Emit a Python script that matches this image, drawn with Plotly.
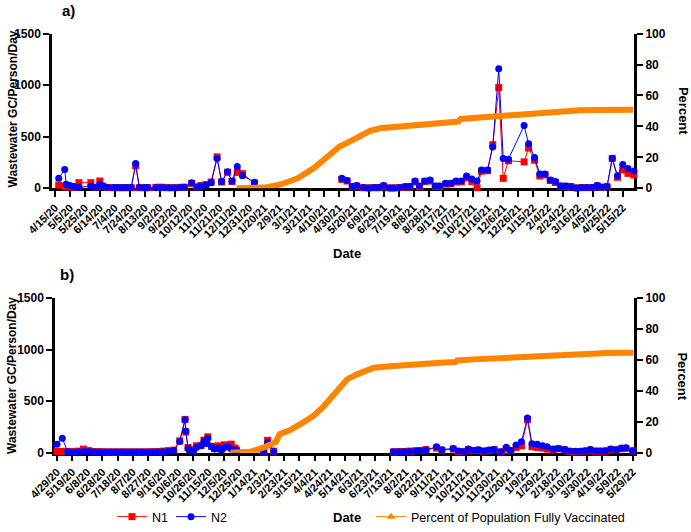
import plotly.graph_objects as go
import pandas as pd

# ---------------- Panel a data ----------------
a_ticks = ["4/15/20", "5/5/20", "5/25/20", "6/14/20", "7/4/20", "7/24/20", "8/13/20", "9/2/20", "9/22/20",
           "10/12/20", "11/1/20", "11/21/20", "12/11/20", "12/31/20", "1/20/21", "2/9/21", "3/1/21", "3/21/21",
           "4/10/21", "4/30/21", "5/20/21", "6/9/21", "6/29/21", "7/19/21", "8/8/21", "8/28/21", "9/17/21",
           "10/7/21", "10/27/21", "11/16/21", "12/6/21", "12/26/21", "1/15/22", "2/4/22", "2/24/22", "3/16/22",
           "4/5/22", "4/25/22", "5/15/22"]

a_dates_1 = ["4/20/20", "4/28/20", "4/30/20", "5/5/20", "5/10/20", "5/17/20", "6/2/20", "6/9/20", "6/14/20",
             "6/18/20", "6/24/20", "7/2/20", "7/8/20", "7/14/20", "7/20/20", "7/26/20", "8/1/20", "8/6/20",
             "8/13/20", "8/17/20", "8/28/20", "9/3/20", "9/8/20", "9/15/20", "9/22/20", "9/29/20", "10/5/20",
             "10/15/20", "10/22/20", "10/27/20", "11/3/20", "11/10/20", "11/18/20", "11/24/20", "12/2/20",
             "12/8/20", "12/15/20", "12/22/20", "1/7/21"]
a_n1_1 = [30, 15, 20, 12, 10, 54, 54, 10, 70, 20, 8, 5, 5, 5, 5, 5, 218, 5, 5, 5, 8, 10, 8, 5, 5, 8, 10, 45,
          12, 25, 35, 60, 304, 60, 155, 65, 154, 141, 50]
a_n2_1 = [96, 182, 38, 26, 16, 6, 22, 6, 38, 22, 6, 6, 6, 6, 6, 6, 240, 6, 6, 6, 4, 6, 4, 4, 4, 6, 10, 54,
          10, 22, 32, 54, 288, 64, 160, 70, 211, 122, 58]

a_dates_2 = ["5/4/21", "5/11/21", "5/18/21", "5/24/21", "6/2/21", "6/9/21", "6/16/21", "6/22/21", "6/29/21",
             "7/7/21", "7/13/21", "7/20/21", "7/28/21", "8/3/21", "8/10/21", "8/16/21", "8/23/21", "8/30/21",
             "9/6/21", "9/12/21", "9/20/21", "9/27/21", "10/4/21", "10/11/21", "10/18/21", "10/25/21",
             "11/1/21", "11/7/21", "11/15/21", "11/22/21", "11/30/21", "12/6/21", "12/13/21", "1/3/22",
             "1/9/22", "1/17/22", "1/24/22", "1/31/22", "2/7/22", "2/14/22", "2/21/22", "2/28/22", "3/7/22",
             "3/14/22", "3/21/22", "3/28/22", "4/4/22", "4/11/22", "4/17/22", "4/24/22", "5/1/22", "5/8/22",
             "5/15/22", "5/22/22", "5/30/22"]
a_n1_2 = [85, 70, 14, 20, 5, 3, 5, 5, 20, 3,
          3, 6, 12, 14, 60, 15, 65, 70, 18, 18,
          40, 42, 60, 62, 100, 65, 5, 165, 170, 422,
          977, 96, 266, 256, 390, 272, 118, 130, 75, 55,
          20, 18, 14, 3, 6, 6, 6, 22, 10, 14,
          290, 106, 176, 144, 128]
a_n2_2 = [96, 74, 16, 26, 6, 3, 6, 6, 26, 3,
          3, 6, 16, 16, 70, 22, 70, 80, 22, 22,
          48, 48, 70, 70, 118, 90, 70, 176, 176, 400,
          1160, 288, 282, 608, 432, 298, 138, 138, 80, 64,
          22, 22, 16, 3, 6, 6, 6, 26, 10, 16,
          288, 122, 230, 192, 166]

vac_a_dates = ["12/14/20", "1/1/21", "1/21/21", "2/12/21", "3/6/21", "3/28/21", "4/18/21", "5/1/21",
               "5/15/21", "5/28/21", "6/10/21", "6/24/21", "7/16/21", "8/8/21", "8/30/21", "9/21/21",
               "10/7/21", "10/10/21", "11/5/21", "11/27/21", "12/19/21", "1/11/22", "2/2/22", "2/24/22",
               "3/19/22", "4/10/22", "5/2/22", "5/29/22"]
vac_a = [0, 0.1, 0.4, 2.6, 6.4, 13.2, 21.3, 27, 30.3, 34, 37, 38.8, 39.9, 41, 41.6, 42.6, 43.1, 44.8, 45.8,
         46.9, 47.8, 48.8, 49.5, 50.1, 50.5, 50.6, 50.7, 50.7]

# ---------------- Panel b data ----------------
b_ticks = ["4/29/20", "5/19/20", "6/8/20", "6/28/20", "7/18/20", "8/7/20", "8/27/20", "9/16/20", "10/6/20",
           "10/26/20", "11/15/20", "12/5/20", "12/25/20", "1/14/21", "2/3/21", "2/23/21", "3/15/21", "4/4/21",
           "4/24/21", "5/14/21", "6/3/21", "6/23/21", "7/13/21", "8/2/21", "8/22/21", "9/11/21", "10/1/21",
           "10/21/21", "11/10/21", "11/30/21", "12/20/21", "1/9/22", "1/29/22", "2/18/22", "3/10/22",
           "3/30/22", "4/19/22", "5/9/22", "5/29/22"]

b_dates_1 = ["4/29/20", "5/6/20", "5/13/20", "5/20/20", "5/27/20", "6/3/20", "6/10/20", "6/17/20", "6/24/20",
             "7/1/20", "7/8/20", "7/15/20", "7/22/20", "7/29/20", "8/5/20", "8/12/20", "8/19/20", "8/26/20",
             "9/2/20", "9/9/20", "9/16/20", "9/23/20", "9/30/20", "10/8/20", "10/15/20", "10/16/20",
             "10/19/20", "10/21/20", "10/26/20", "10/30/20", "11/5/20", "11/9/20", "11/12/20", "11/14/20",
             "11/19/20", "11/23/20", "11/28/20", "12/2/20", "12/6/20", "12/11/20", "12/15/20", "12/20/20",
             "12/22/20", "1/27/21", "2/1/21", "2/9/21"]
b_n1_1 = [13, 13, 12, 10, 15, 35, 20, 12, 10, 8, 8, 8, 8, 8, 8, 8, 8, 8, 10, 12, 15, 20, 25,
          115, 323, 200, 51, 30, 20, 67, 70, 122, 95, 154, 62, 40, 67, 35, 77, 65, 83, 45, 25,
          8, 120, 15]
b_n2_1 = [83, 141, 10, 8, 10, 15, 12, 8, 8, 6, 6, 6, 6, 6, 6, 6, 6, 6, 8, 8, 10, 15, 20,
          109, 320, 211, 42, 26, 13, 51, 67, 109, 90, 141, 58, 35, 45, 26, 51, 58, 35, 26, 19,
          6, 100, 13]

b_dates_2 = ["7/17/21", "7/24/21", "7/31/21", "8/7/21", "8/15/21", "8/21/21", "8/29/21", "9/12/21", "9/19/21",
             "10/4/21", "10/11/21", "10/18/21", "10/24/21", "10/31/21", "11/6/21", "11/13/21", "11/20/21",
             "11/27/21", "12/6/21", "12/13/21", "12/19/21", "12/26/21", "1/2/22", "1/10/22", "1/16/22",
             "1/23/22", "1/30/22", "2/5/22", "2/13/22", "2/20/22", "2/28/22", "3/7/22", "3/14/22", "3/21/22",
             "3/27/22", "4/3/22", "4/10/22", "4/16/22", "4/23/22", "4/30/22", "5/7/22", "5/14/22", "5/20/22",
             "5/29/22"]
b_n1_2 = [8, 10, 12, 15, 18, 22, 30, 45, 25, 35, 12, 10, 28, 20, 25, 15, 22, 30, 8, 35,
          20, 51, 67, 320, 58, 51, 45, 35, 30, 38, 28, 12, 10, 12, 15, 25, 14, 14, 16, 30,
          28, 38, 42, 18]
b_n2_2 = [10, 10, 10, 13, 16, 19, 26, 58, 29, 42, 16, 10, 35, 22, 29, 16, 26, 32, 10, 54,
          22, 74, 106, 336, 86, 83, 67, 58, 35, 42, 32, 16, 13, 13, 19, 32, 16, 16, 19, 35,
          29, 45, 48, 19]

vac_b_dates = ["12/14/20", "1/9/21", "1/27/21", "2/9/21", "2/12/21", "2/17/21", "3/3/21", "3/20/21", "4/3/21",
               "4/16/21", "4/29/21", "5/12/21", "5/17/21", "5/30/21", "6/12/21", "6/21/21", "7/13/21",
               "8/4/21", "8/26/21", "9/17/21", "10/7/21", "10/9/21", "10/31/21", "11/22/21", "12/14/21",
               "1/5/22", "1/27/22", "2/18/22", "3/12/22", "4/3/22", "4/25/22", "5/30/22"]
vac_b = [0, 0.6, 3.4, 5.6, 7, 12, 14.6, 19.6, 24, 30, 37.7, 46, 47.5, 50.7, 52.9, 55, 56, 57, 57.8, 58.2,
         58.7, 59.7, 60.4, 61, 61.7, 62.3, 63, 63.6, 64, 64.2, 64.5, 64.7]


def d(lst):
    return pd.to_datetime(lst, format="%m/%d/%y")


RED = "#FF0000"
BLUE = "#0000FF"
ORANGE = "#FF8400"
FONT = "Liberation Sans, Arial, sans-serif"

W, H = 691, 532


def px(x):
    return x / W


def py(y):
    return 1 - y / H


fig = go.Figure()


def add_panel(xa, ya_left, ya_right, segs, vd, vv, show):
    fig.add_trace(go.Scatter(x=d(vd), y=vv, mode="lines", line=dict(color=ORANGE, width=6),
                             xaxis=xa, yaxis=ya_right, showlegend=False, hoverinfo="skip"))
    for i, (dates, n1, n2) in enumerate(segs):
        fig.add_trace(go.Scatter(x=d(dates), y=n1, mode="lines+markers", name="N1",
                                 line=dict(color=RED, width=1),
                                 marker=dict(symbol="square", size=7, color=RED),
                                 xaxis=xa, yaxis=ya_left, cliponaxis=False,
                                 showlegend=(show and i == 0), legendgroup="n1", legend="legend"))
    for i, (dates, n1, n2) in enumerate(segs):
        fig.add_trace(go.Scatter(x=d(dates), y=n2, mode="lines+markers", name="N2",
                                 line=dict(color=BLUE, width=1),
                                 marker=dict(symbol="circle", size=7, color=BLUE),
                                 xaxis=xa, yaxis=ya_left, cliponaxis=False,
                                 showlegend=(show and i == 0), legendgroup="n2", legend="legend"))


add_panel("x", "y", "y2", [(a_dates_1, a_n1_1, a_n2_1), (a_dates_2, a_n1_2, a_n2_2)], vac_a_dates, vac_a, True)
add_panel("x2", "y3", "y4", [(b_dates_1, b_n1_1, b_n2_1), (b_dates_2, b_n1_2, b_n2_2)], vac_b_dates, vac_b, False)

# legend entry for vaccination
fig.add_trace(go.Scatter(x=[None], y=[None], mode="lines+markers", name="Percent of Population Fully Vaccinated",
                         line=dict(color=ORANGE, width=1), marker=dict(symbol="triangle-up", size=8, color=ORANGE),
                         legend="legend2", xaxis="x", yaxis="y2"))

axis_common = dict(showline=True, linewidth=2.5, linecolor="black", ticks="outside", ticklen=6, tickwidth=2,
                   tickcolor="black", showgrid=False, zeroline=False, layer="below traces")
tickfont_y = dict(family=FONT, size=12, color="black", weight="bold")
tickfont_x = dict(family=FONT, size=11, color="black", weight="bold")

fig.update_layout(
    width=W, height=H, margin=dict(l=0, r=0, t=0, b=0),
    plot_bgcolor="white", paper_bgcolor="white",
    font=dict(family=FONT, color="black"),
    xaxis=dict(domain=[px(52), px(634.3)], anchor="y",
               range=[pd.Timestamp("2020-04-11"), pd.Timestamp("2022-05-30 12:00")],
               tickmode="array", tickvals=d(a_ticks), ticktext=a_ticks, tickangle=-45,
               tickfont=tickfont_x, automargin=False, **axis_common),
    yaxis=dict(domain=[py(190), py(34)], anchor="x", range=[0, 1500], tickvals=[0, 500, 1000, 1500],
               tickfont=tickfont_y, automargin=False, **axis_common),
    yaxis2=dict(overlaying="y", side="right", anchor="x", range=[0, 100], tickvals=[0, 20, 40, 60, 80, 100],
                tickfont=tickfont_y, automargin=False, **axis_common),
    xaxis2=dict(domain=[px(55), px(634.3)], anchor="y3",
                range=[pd.Timestamp("2020-04-26 09:00"), pd.Timestamp("2022-05-31")],
                tickmode="array", tickvals=d(b_ticks), ticktext=b_ticks, tickangle=-45,
                tickfont=tickfont_x, automargin=False, **axis_common),
    yaxis3=dict(domain=[py(457), py(301)], anchor="x2", range=[0, 1500], tickvals=[0, 500, 1000, 1500],
                tickfont=tickfont_y, automargin=False, **axis_common),
    yaxis4=dict(overlaying="y3", side="right", anchor="x2", range=[0, 100], tickvals=[0, 20, 40, 60, 80, 100],
                tickfont=tickfont_y, automargin=False, **axis_common),
    legend=dict(orientation="h", x=px(112), y=py(522), xanchor="left", yanchor="middle", entrywidth=14,
                font=dict(family=FONT, size=12.5, color="black"), bgcolor="rgba(0,0,0,0)"),
    legend2=dict(orientation="h", x=px(371), y=py(522), xanchor="left", yanchor="middle",
                 font=dict(family=FONT, size=12.5, color="black"), bgcolor="rgba(0,0,0,0)"),
)

bold = dict(family=FONT, color="black", weight="bold")
annots = [
    dict(text="a)", x=px(68.5), y=py(11), font=dict(size=15, **bold)),
    dict(text="b)", x=px(67), y=py(277), font=dict(size=15, **bold)),
    dict(text="Wastewater GC/Person/Day", x=px(12.5), y=py(110), textangle=-90, font=dict(size=12, **bold)),
    dict(text="Wastewater GC/Person/Day", x=px(12.5), y=py(379), textangle=-90, font=dict(size=12, **bold)),
    dict(text="Percent", x=px(683), y=py(112), textangle=90, font=dict(size=13, **bold)),
    dict(text="Percent", x=px(683), y=py(380), textangle=90, font=dict(size=13, **bold)),
    dict(text="Date", x=px(347), y=py(256), font=dict(size=13, **bold)),
    dict(text="Date", x=px(347), y=py(522), font=dict(size=13, **bold)),
]
for a in annots:
    fig.add_annotation(xref="paper", yref="paper", xanchor="center", yanchor="middle", showarrow=False, **a)

fig.write_html("out.html", config={"displayModeBar": False},
               post_script="document.body.style.margin='0px';")
